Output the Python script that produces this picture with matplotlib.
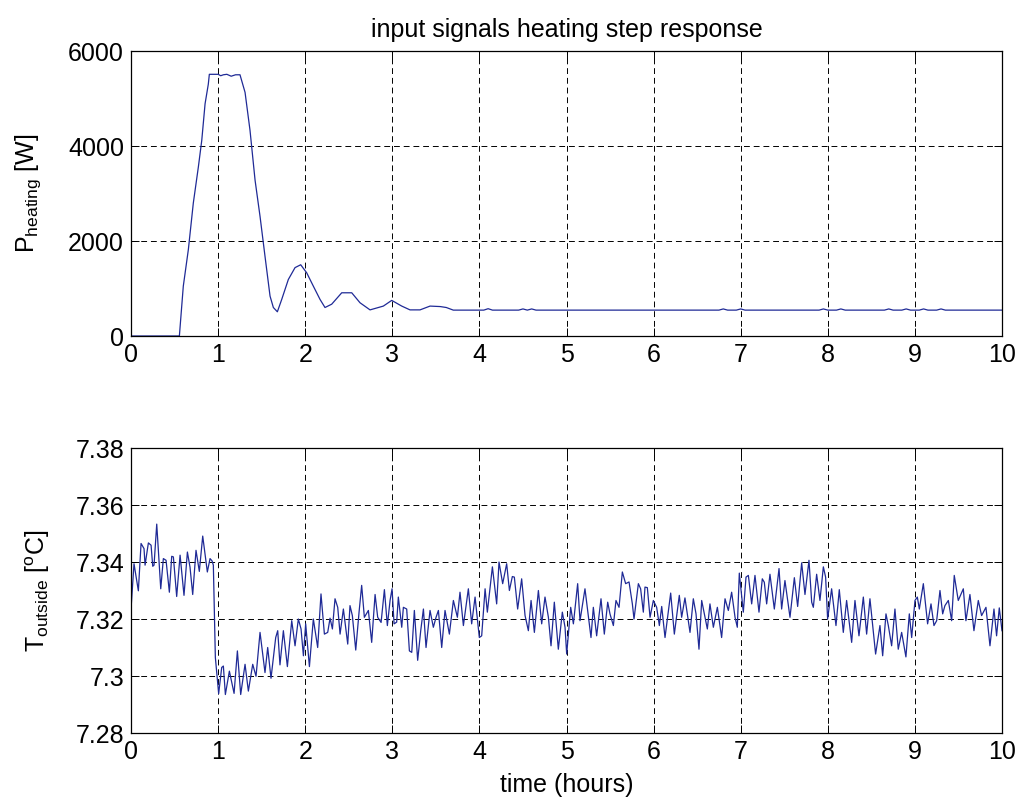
import matplotlib
matplotlib.use("Agg")
import matplotlib.pyplot as plt

plt.rcParams['font.family'] = ['Liberation Sans', 'DejaVu Sans']
plt.rcParams['mathtext.fontset'] = 'custom'
plt.rcParams['mathtext.rm'] = 'Liberation Sans'

# ---- heating power (top panel) ----
t_heat = [0, 0.555, 0.600, 0.658, 0.715, 0.773, 0.812, 0.850, 0.887, 0.899,
          0.95, 1.0, 1.03, 1.06, 1.10, 1.15, 1.20, 1.251, 1.309, 1.366,
          1.424, 1.481, 1.538, 1.596, 1.634, 1.680, 1.730, 1.806, 1.883, 1.948,
          2.017, 2.093, 2.170, 2.227, 2.304, 2.419, 2.534, 2.629, 2.744, 2.897,
          2.993, 3.108, 3.203, 3.318, 3.433, 3.55, 3.62, 3.70, 4.05, 4.10,
          4.15, 4.45, 4.50, 4.55, 4.60, 4.65, 6.75, 6.80, 6.85, 6.95,
          7.00, 7.05, 7.90, 7.95, 8.00, 8.10, 8.15, 8.20, 8.65, 8.70,
          8.75, 8.85, 8.90, 8.95, 9.05, 9.10, 9.15, 9.25, 9.30, 9.35, 10.0]
p_heat = [0, 0, 1050, 1820, 2800, 3560, 4120, 4890, 5300, 5510,
          5510, 5510, 5480, 5500, 5510, 5470, 5500, 5500, 5130, 4330,
          3280, 2520, 1680, 840, 600, 510, 770, 1190, 1440, 1500,
          1330, 1050, 770, 600, 670, 910, 910, 700, 550, 630,
          750, 630, 550, 550, 630, 620, 600, 545, 545, 575,
          545, 545, 570, 545, 570, 545, 545, 570, 545, 545,
          570, 545, 545, 570, 545, 545, 570, 545, 545, 570,
          545, 545, 570, 545, 545, 570, 545, 545, 570, 545, 545]

# ---- outside temperature (bottom panel) ----
t_out = [0.000, 0.034, 0.084, 0.115, 0.149, 0.161, 0.199, 0.230, 0.249, 0.264,
         0.295, 0.341, 0.371, 0.402, 0.440, 0.467, 0.486, 0.524, 0.563, 0.608,
         0.647, 0.677, 0.708, 0.746, 0.784, 0.823, 0.876, 0.907, 0.930, 0.945,
         0.968, 1.006, 1.041, 1.060, 1.083, 1.129, 1.183, 1.221, 1.259, 1.309,
         1.347, 1.397, 1.435, 1.481,
         1.538, 1.569, 1.607, 1.661, 1.684, 1.710, 1.749, 1.795, 1.845, 1.883,
         1.921, 1.952, 1.979, 2.005, 2.048, 2.093, 2.143, 2.181, 2.220, 2.258,
         2.285, 2.312, 2.342, 2.373, 2.400, 2.438, 2.488, 2.514, 2.541, 2.580,
         2.618, 2.648, 2.679, 2.725, 2.763, 2.802, 2.832, 2.871, 2.909,
         2.943, 2.974, 2.997, 3.020, 3.050, 3.069, 3.108, 3.127, 3.165, 3.196,
         3.223, 3.253, 3.291, 3.326, 3.357, 3.387, 3.433, 3.471, 3.502, 3.529,
         3.567, 3.605, 3.655, 3.701, 3.747, 3.777, 3.816, 3.873, 3.911, 3.950,
         3.999, 4.026, 4.065, 4.091, 4.149, 4.198, 4.225, 4.267, 4.313, 4.344,
         4.378, 4.401, 4.439, 4.485, 4.524, 4.562, 4.593, 4.631, 4.677, 4.715,
         4.753, 4.792, 4.822, 4.860, 4.906, 4.952, 4.983, 5.002, 5.048, 5.079,
         5.128, 5.155, 5.212, 5.281, 5.308, 5.346, 5.396, 5.434, 5.473, 5.499,
         5.538, 5.568, 5.603, 5.641, 5.679, 5.718, 5.756,
         5.775, 5.825, 5.851, 5.882, 5.901, 5.928, 5.959, 5.997, 6.035, 6.066,
         6.093, 6.131, 6.196, 6.238, 6.295, 6.322, 6.360, 6.418, 6.456, 6.487,
         6.521, 6.552, 6.617, 6.647, 6.686, 6.732, 6.781, 6.820, 6.858, 6.896,
         6.935, 6.961, 6.984, 7.030, 7.061, 7.088, 7.126,
         7.164, 7.210, 7.248, 7.271, 7.298, 7.336, 7.386, 7.440, 7.470, 7.508,
         7.566, 7.616, 7.654, 7.700, 7.738, 7.784, 7.815, 7.834, 7.872, 7.910,
         7.949, 7.975, 7.998, 8.044, 8.094, 8.132, 8.178, 8.216, 8.274, 8.312,
         8.358, 8.408, 8.446, 8.484, 8.549, 8.599,
         8.630, 8.668, 8.695, 8.733, 8.771, 8.809, 8.848, 8.897, 8.936, 8.963,
         9.001, 9.028, 9.051, 9.097, 9.146, 9.185, 9.219, 9.250, 9.288, 9.319,
         9.345, 9.384, 9.422, 9.452, 9.498, 9.556, 9.586, 9.632, 9.678, 9.728,
         9.766, 9.816, 9.862, 9.908, 9.938, 9.969, 10.0]
temp_out = [7.3237, 7.3395, 7.3300, 7.3466, 7.3448, 7.3390, 7.3468, 7.3460, 7.3386, 7.3390,
            7.3534, 7.3307, 7.3413, 7.3407, 7.3295, 7.3421, 7.3419, 7.3280, 7.3425, 7.3284,
            7.3436, 7.3383, 7.3287, 7.3442, 7.3368, 7.3492, 7.3366, 7.3413, 7.3405, 7.3390,
            7.3066, 7.2939, 7.3031, 7.3036, 7.2936, 7.3018, 7.2940, 7.3089, 7.2936, 7.3042,
            7.2948, 7.3042, 7.3000, 7.3154,
            7.3013, 7.3101, 7.2993, 7.3136, 7.3160, 7.3040, 7.3160, 7.3034, 7.3195, 7.3107,
            7.3201, 7.3166, 7.3072, 7.3184, 7.3034, 7.3201, 7.3101, 7.3289, 7.3148, 7.3154,
            7.3204, 7.3166, 7.3272, 7.3242, 7.3148, 7.3236, 7.3113, 7.3248, 7.3213, 7.3092,
            7.3225, 7.3319, 7.3207, 7.3231, 7.3119, 7.3287, 7.3207, 7.3189, 7.3304,
            7.3178, 7.3266, 7.3307, 7.3184, 7.3190, 7.3278, 7.3172, 7.3242, 7.3236, 7.3089,
            7.3084, 7.3231, 7.3056, 7.3160, 7.3236, 7.3101, 7.3231, 7.3172, 7.3207, 7.3231,
            7.3101, 7.3231, 7.3148, 7.3266, 7.3207, 7.3295, 7.3178, 7.3307, 7.3184, 7.3278,
            7.3136, 7.3142, 7.3307, 7.3225, 7.3384, 7.3254, 7.3401, 7.3325, 7.3395, 7.3301,
            7.3350, 7.3348, 7.3236, 7.3342, 7.3213, 7.3160, 7.3266, 7.3154, 7.3301, 7.3184,
            7.3278, 7.3207, 7.3107, 7.3260, 7.3095, 7.3225, 7.3172, 7.3078, 7.3242, 7.3184,
            7.3325, 7.3195, 7.3307, 7.3136, 7.3242, 7.3142, 7.3272, 7.3148, 7.3260, 7.3219,
            7.3178, 7.3266, 7.3242, 7.3366, 7.3325, 7.3331, 7.3254,
            7.3201, 7.3325, 7.3307, 7.3225, 7.3313, 7.3311, 7.3207, 7.3266, 7.3242, 7.3178,
            7.3245, 7.3136, 7.3292, 7.3148, 7.3284, 7.3207, 7.3275, 7.3154, 7.3272, 7.3219,
            7.3095, 7.3266, 7.3166, 7.3254, 7.3172, 7.3242, 7.3136, 7.3272, 7.3231, 7.3295,
            7.3207, 7.3172, 7.3362, 7.3225, 7.3348, 7.3354, 7.3254,
            7.3354, 7.3225, 7.3342, 7.3330, 7.3254, 7.3358, 7.3236, 7.3378, 7.3236, 7.3336,
            7.3207, 7.3346, 7.3245, 7.3398, 7.3287, 7.3407, 7.3260, 7.3242, 7.3358, 7.3266,
            7.3384, 7.3348, 7.3201, 7.3307, 7.3178, 7.3304, 7.3154, 7.3266, 7.3119, 7.3266,
            7.3142, 7.3278, 7.3148, 7.3272, 7.3078, 7.3178,
            7.3072, 7.3219, 7.3178, 7.3107, 7.3236, 7.3095, 7.3154, 7.3068, 7.3219, 7.3136,
            7.3266, 7.3278, 7.3236, 7.3325, 7.3184, 7.3254, 7.3178, 7.3195, 7.3301, 7.3219,
            7.3248, 7.3266, 7.3195, 7.3354, 7.3266, 7.3307, 7.3195, 7.3287, 7.3160, 7.3266,
            7.3213, 7.3242, 7.3107, 7.3236, 7.3142, 7.3240, 7.3160]

x_ticks = list(range(0, 11))
p_ticks = [0, 2000, 4000, 6000]
t_ticks = [7.28, 7.30, 7.32, 7.34, 7.36, 7.38]
t_tick_labels = ['7.28', '7.3', '7.32', '7.34', '7.36', '7.38']

line_col = '#1f2a96'
fs = 18

fig = plt.figure(figsize=(10.19, 8.05), dpi=100)
ax1 = fig.add_axes([0.1286, 0.5826, 0.8547, 0.3540])
ax2 = fig.add_axes([0.1286, 0.0891, 0.8547, 0.3540])


def style(ax):
    ax.set_xlim(0, 10)
    ax.set_xticks(x_ticks)
    ax.grid(True, color='black', linestyle=(0, (6, 4)), linewidth=0.7)
    ax.tick_params(direction='in', top=True, right=True, length=6,
                   width=0.7, labelsize=fs, pad=5)
    for s in ax.spines.values():
        s.set_linewidth(0.9)


# top panel
ax1.plot(t_heat, p_heat, color=line_col, linewidth=0.9)
style(ax1)
ax1.set_ylim(0, 6000)
ax1.set_yticks(p_ticks)
ax1.set_ylabel(r'P$_{\mathregular{heating}}$ [W]', fontsize=fs, labelpad=18)
ax1.set_title('input signals heating step response', fontsize=fs, pad=10)

# bottom panel
ax2.plot(t_out, temp_out, color=line_col, linewidth=0.9)
style(ax2)
ax2.set_ylim(7.28, 7.38)
ax2.set_yticks(t_ticks)
ax2.set_yticklabels(t_tick_labels)
ax2.set_ylabel(r'T$_{\mathregular{outside}}$ [$^{\mathregular{o}}$C]', fontsize=fs, labelpad=17)
ax2.set_xlabel('time (hours)', fontsize=fs, labelpad=6)

fig.savefig('out.png', dpi=100)
